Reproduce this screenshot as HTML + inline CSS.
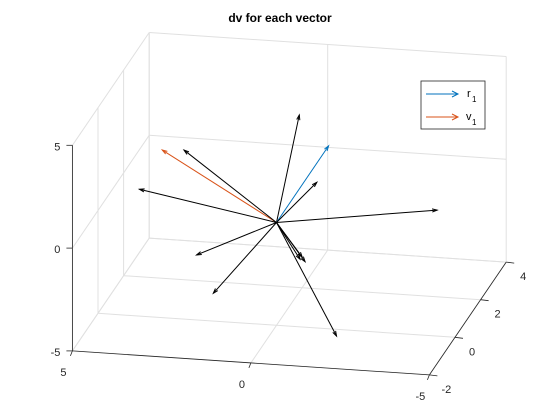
<!DOCTYPE html>
<html><head><meta charset="utf-8"><style>
body{margin:0;background:#fff;}
svg{display:block;font-family:"Liberation Sans",sans-serif;}
</style></head><body>
<svg id="chart" width="560" height="420" viewBox="0 0 560 420" xmlns="http://www.w3.org/2000/svg">
<rect width="560" height="420" fill="#fff"/>
<text x="280" y="22" text-anchor="middle" font-size="12" font-weight="bold" fill="#000">dv for each vector</text>
<g id="grid"></g><g id="axes"></g><g id="vecs"></g>
<g>
<rect x="421" y="81" width="64" height="48" fill="#fff" stroke="#262626" stroke-width="0.8"/>
<g>
<line x1="426" y1="94" x2="458" y2="94" stroke="#0072bd"/>
<path d="M452,91 L458,94 L452,97" fill="none" stroke="#0072bd"/>
<text x="467" y="97" font-size="11" fill="#000">r</text><text x="472" y="102" font-size="8" fill="#000">1</text>
</g>
<g>
<line x1="426" y1="117" x2="458" y2="117" stroke="#d95319"/>
<path d="M452,114 L458,117 L452,120" fill="none" stroke="#d95319"/>
<text x="466" y="120" font-size="11" fill="#000">v</text><text x="472" y="125" font-size="8" fill="#000">1</text>
</g>
</g>
</svg>
<script>
// data: vector endpoints (all from origin)
const vecX = [-0.28, -1.10, 3.20, 2.59, 3.84, -1.13, -4.50, 2.24, 1.77, -0.66, -0.80, -0.72, -2.04];
const vecY = [1, 1, 0, 0, 0, 0, 0, 0, 0, 0, 0, 0, -1];
const vecZ = [4.35, 2.94, 3.15, 3.22, 1.17, 2.09, 1.13, -1.84, -3.65, -1.71, -1.81, -1.6, -4.37];
const vecColor = ['k','r1','v1','k','k','k','k','k','k','k','k','k','k'];
const xTicks = [5, 0, -5];
const yTicks = [-2, 0, 2, 4];
const zTicks = [-5, 0, 5];
const xLim=[-5,5], yLim=[-2,4], zLim=[-5,5];

const O=[276.5,222.5], EX=[-35.7,-2.4], EY=[12.8,-18.8], EZ=[0,-20.56];
function P(x,y,z){return [O[0]+x*EX[0]+y*EY[0]+z*EZ[0], O[1]+x*EX[1]+y*EY[1]+z*EZ[1]];}
const NS='http://www.w3.org/2000/svg';
function mk(parent,tag,attrs){const e=document.createElementNS(NS,tag);for(const k in attrs)e.setAttribute(k,attrs[k]);parent.appendChild(e);return e;}
function seg(parent,a,b,col,w){return mk(parent,'line',{x1:a[0],y1:a[1],x2:b[0],y2:b[1],stroke:col,'stroke-width':w});}
const grid=document.getElementById('grid'), axes=document.getElementById('axes'), vecs=document.getElementById('vecs');
const gc='#e0e0e0';
xTicks.forEach(x=>{const l=seg(grid,P(x,yLim[0],zLim[0]),P(x,yLim[1],zLim[0]),gc,1);


const l2=seg(grid,P(x,yLim[1],zLim[0]),P(x,yLim[1],zLim[1]),gc,1);

});
yTicks.forEach(y=>{const l=seg(grid,P(xLim[0],y,zLim[0]),P(xLim[1],y,zLim[0]),gc,1);


const l2=seg(grid,P(xLim[1],y,zLim[0]),P(xLim[1],y,zLim[1]),gc,1);

});
zTicks.forEach(z=>{const l=seg(grid,P(xLim[1],yLim[1],z),P(xLim[0],yLim[1],z),gc,1);


const l2=seg(grid,P(xLim[1],yLim[0],z),P(xLim[1],yLim[1],z),gc,1);

});
const ac='#262626';
const xa=seg(axes,P(xLim[1],yLim[0],zLim[0]),P(xLim[0],yLim[0],zLim[0]),ac,0.8);


const ya=seg(axes,P(xLim[0],yLim[0],zLim[0]),P(xLim[0],yLim[1],zLim[0]),ac,0.8);


const za=seg(axes,P(xLim[1],yLim[0],zLim[0]),P(xLim[1],yLim[0],zLim[1]),ac,0.8);


function lab(x,y,t,anchor,name){const e=mk(axes,'text',{x:x,y:y,'text-anchor':anchor,'font-size':'11',fill:'#262626'});e.textContent=t;

}
xTicks.forEach(x=>{const p=P(x,yLim[0],zLim[0]);seg(axes,p,[p[0]-2,p[1]+5],ac,0.8);lab(p[0]-9,p[1]+25,String(x),'middle','x-tick-label');});
yTicks.forEach(y=>{const p=P(xLim[0],y,zLim[0]);seg(axes,p,[p[0]+8,p[1]+1],ac,0.8);lab(p[0]+17,p[1]+18,String(y),'middle','y-tick-label');});
zTicks.forEach(z=>{const p=P(xLim[1],yLim[0],z);seg(axes,p,[p[0]-6,p[1]],ac,0.8);lab(p[0]-12,p[1]+5,String(z),'end','z-tick-label');});
const colors={k:'#000',r1:'#0072bd',v1:'#d95319'};
const o=P(0,0,0);
vecX.forEach((vx,i)=>{const e=P(vx,vecY[i],vecZ[i]);const c=colors[vecColor[i]];
const g=mk(vecs,'g',{});


seg(g,o,e,c,1);
const dx=e[0]-o[0],dy=e[1]-o[1],L=Math.hypot(dx,dy),ux=dx/L,uy=dy/L,h=5,s=1.6;
const b=[e[0]-ux*h,e[1]-uy*h];
mk(g,'path',{d:`M${b[0]-uy*s},${b[1]+ux*s} L${e[0]},${e[1]} L${b[0]+uy*s},${b[1]-ux*s}`,fill:'none',stroke:c,'stroke-width':1});
});
</script>
</body></html>
